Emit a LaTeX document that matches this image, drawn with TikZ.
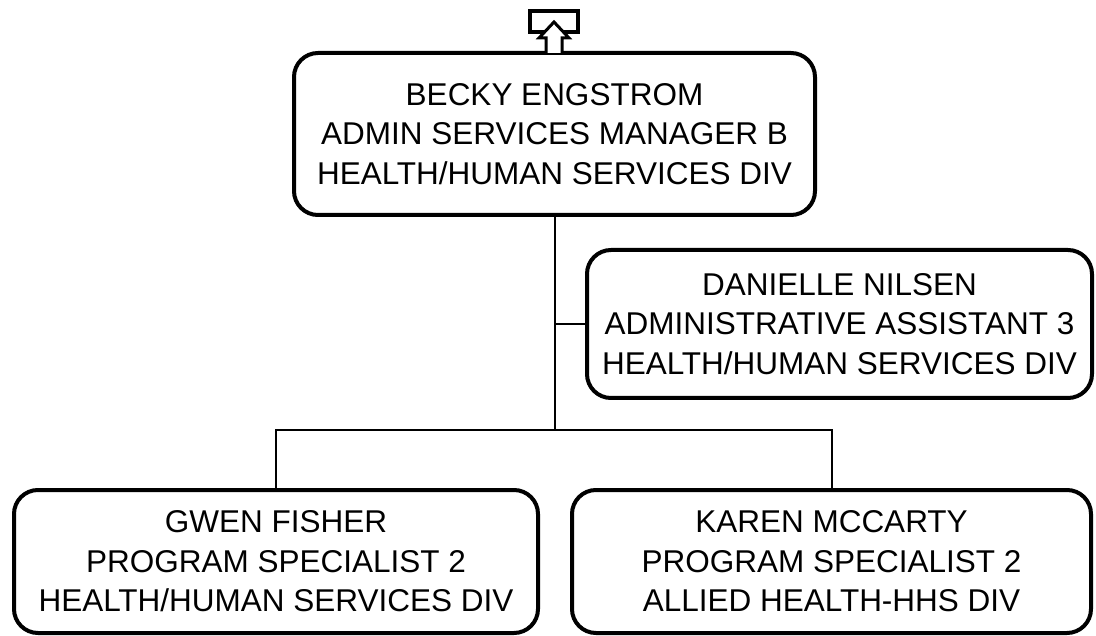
\documentclass[tikz,border=0pt]{standalone}
\usepackage{fontspec}
\setmainfont{Liberation Sans}
\usetikzlibrary{positioning,calc}

\begin{document}
\begin{tikzpicture}[
  x=1pt, y=-1pt,
  orgBox/.style={draw, line width=4pt, rounded corners=24pt, align=center,
                 inner sep=0pt, font=\fontsize{31.5}{39.5}\selectfont},
  orgLink/.style={line width=2pt}
]
  \useasboundingbox (0,0) rectangle (1096,636);

  % === Manager ===
  \node[orgBox, minimum width=521pt, minimum height=162pt] (becky) at (554.5,134)
    {BECKY ENGSTROM\\ADMIN SERVICES MANAGER B\\HEALTH/HUMAN SERVICES DIV};

  % === Assistant ===
  \node[orgBox, minimum width=505pt, minimum height=148pt] (danielle) at (839.5,324)
    {DANIELLE NILSEN\\ADMINISTRATIVE ASSISTANT 3\\HEALTH/HUMAN SERVICES DIV};

  % === Reports ===
  \node[orgBox, minimum width=524pt, minimum height=143pt] (gwen) at (276,561.5)
    {GWEN FISHER\\PROGRAM SPECIALIST 2\\HEALTH/HUMAN SERVICES DIV};
  \node[orgBox, minimum width=519pt, minimum height=143pt] (karen) at (831.5,561.5)
    {KAREN MCCARTY\\PROGRAM SPECIALIST 2\\ALLIED HEALTH-HHS DIV};

  % Connectors
  \coordinate (bus) at (555,430);
  \draw[orgLink] (becky.south -| bus) -- (bus);
  \draw[orgLink] (danielle.west -| bus) -- (danielle.west);
  \draw[orgLink] (gwen.north) |- (bus) -| (karen.north);

  % Up-link icon
  \draw[line width=4pt] (530,11) rectangle (578,32);
  \draw[line width=3pt, fill=white, line join=miter]
    (546,53) -- (546,38) -- (539,38) -- (554,22) -- (569,38) -- (562,38) -- (562,53);
\end{tikzpicture}
\end{document}
